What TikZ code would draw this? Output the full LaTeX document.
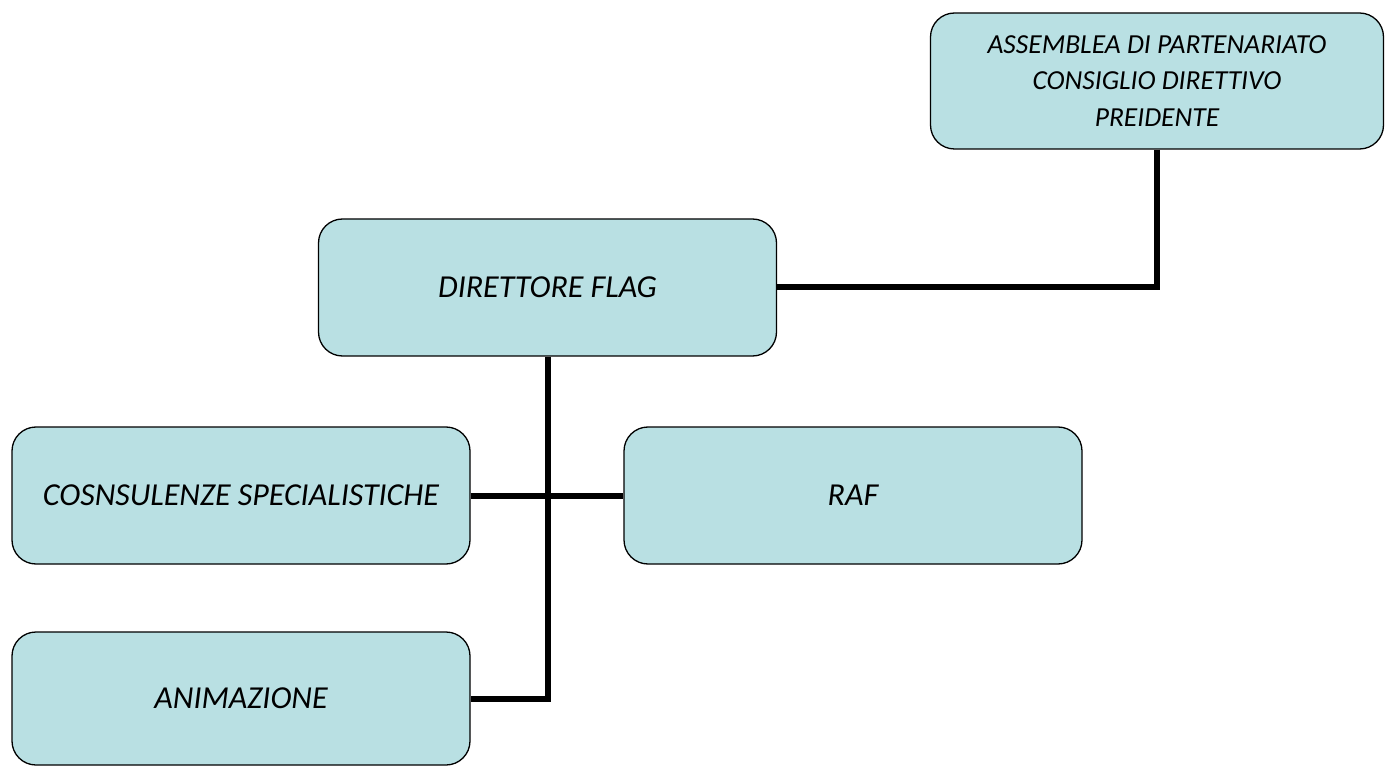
\documentclass[tikz,border=0pt]{standalone}
\usepackage{fontspec}
\setmainfont{Carlito}
\begin{document}
\begin{tikzpicture}[x=1pt,y=-1pt,
  orgbox/.style={draw=black, line width=1.3pt, fill=boxfill, rounded corners=24pt,
    inner sep=0pt, minimum width=458pt, minimum height=136pt, align=center,
    font=\fontsize{32}{36}\selectfont\itshape},
  link/.style={line width=6pt, draw=black}]
\definecolor{boxfill}{HTML}{B9E0E3}
\useasboundingbox (0,0) rectangle (1390,767);
\node[orgbox, minimum width=453pt, font=\fontsize{27.5}{36.7}\selectfont\itshape] (top) at (1157,81) {ASSEMBLEA DI PARTENARIATO\\CONSIGLIO DIRETTIVO\\PREIDENTE};
\node[orgbox, minimum height=137pt] (dir) at (547.5,287.5) {\raisebox{-4pt}{DIRETTORE FLAG}};
\node[orgbox, minimum height=137pt] (cons) at (241,495.5) {\raisebox{-3pt}{COSNSULENZE SPECIALISTICHE}};
\node[orgbox, minimum height=137pt] (raf) at (853,495.5) {\raisebox{-3pt}{RAF}};
\node[orgbox, minimum height=133pt] (anim) at (241,698.5) {\raisebox{-3pt}{ANIMAZIONE}};
\draw[link] (top.south) |- (dir.east);
\draw[link] (dir.south) |- (anim.east);
\draw[link] (cons.east) -- (raf.west);
\end{tikzpicture}
\end{document}
